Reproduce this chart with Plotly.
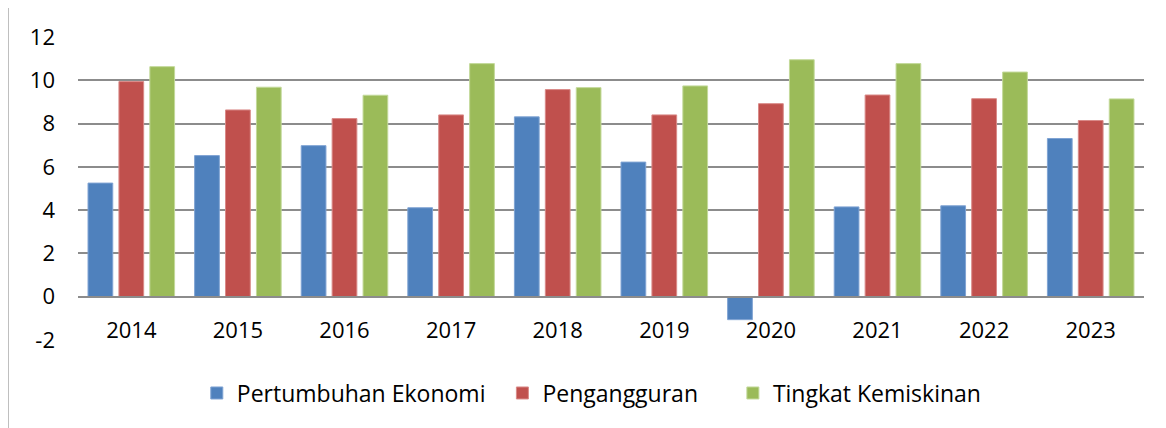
import plotly.graph_objects as go

years = ["2014", "2015", "2016", "2017", "2018", "2019", "2020", "2021", "2022", "2023"]
pertumbuhan = [5.25, 6.52, 6.98, 4.11, 8.31, 6.22, -1.06, 4.15, 4.20, 7.31]
pengangguran = [9.94, 8.63, 8.23, 8.40, 9.57, 8.40, 8.92, 9.32, 9.15, 8.14]
kemiskinan = [10.63, 9.68, 9.31, 10.77, 9.66, 9.74, 10.95, 10.77, 10.38, 9.14]

names = ["Pertumbuhan Ekonomi", "Pengangguran", "Tingkat Kemiskinan"]
name_pad = ["\u00a0\u00a0", "\u00a0\u00a0\u00a0\u00a0\u00a0", ""]
colors = ["#4F81BD", "#C0504D", "#9BBB59"]
edges = ["#7fa3d3", "#d98a88", "#c3d99a"]
y_ticks = [-2, 0, 2, 4, 6, 8, 10, 12]
y_ticktext = ["-2", "0", "2", "4", "6", "8", "10", "12"]

FONT = "Open Sans"

fig = go.Figure()
for vals, name, pad, c, e in zip([pertumbuhan, pengangguran, kemiskinan], names, name_pad, colors, edges):
    fig.add_trace(go.Bar(x=years, y=vals, name=name + pad,
                         marker=dict(color=c, line=dict(color=e, width=1))))

# the page body has an 8px margin, so the figure starts at (8, 8)
fig.update_layout(
    width=1158, height=420,
    margin=dict(l=70, r=22, t=29, b=88),
    paper_bgcolor="white", plot_bgcolor="white",
    barmode="group", bargap=0.13, bargroupgap=0.2,
    font=dict(family=FONT, size=22, color="black"),
    showlegend=True,
    legend=dict(orientation="h", x=0.482, xanchor="center", y=-0.175, yanchor="middle",
                font=dict(family=FONT, size=23, color="black"), itemwidth=30,
                bgcolor="rgba(0,0,0,0)"),
    xaxis=dict(type="category", anchor="free", position=2/14, showline=True,
               linecolor="#8c8c8c", linewidth=2, ticks="", showgrid=False,
               ticklabelstandoff=14, tickfont=dict(family=FONT, size=22)),
    yaxis=dict(range=[-2, 12], tickvals=y_ticks, ticktext=y_ticktext, showgrid=True,
               gridcolor="#8c8c8c", gridwidth=2, zeroline=False, showline=False, ticks="",
               ticklabelstandoff=22, tickfont=dict(family=FONT, size=22)),
)

# outer chart frame (partially cropped in reference)
fig.add_shape(type="rect", xref="paper", yref="paper",
              x0=-0.0657, x1=1.03, y0=-0.32, y1=1.099,
              line=dict(color="#a6a6a6", width=1.5), fillcolor="rgba(0,0,0,0)", layer="below")

fig.write_html("out.html")
